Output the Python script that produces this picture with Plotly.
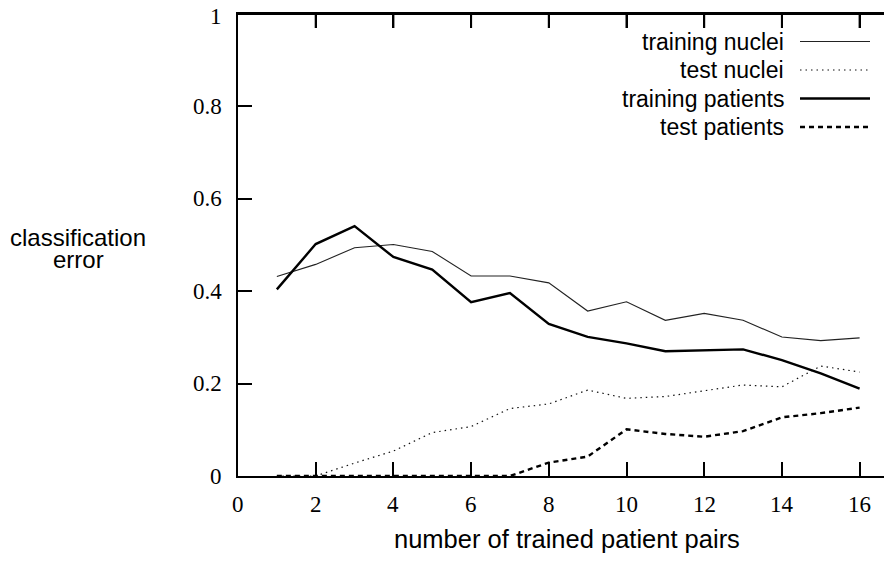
import plotly.graph_objects as go

pairs = list(range(1, 17))
training_nuclei = [0.432, 0.458, 0.494, 0.501, 0.486, 0.433, 0.433, 0.418,
                   0.357, 0.377, 0.337, 0.352, 0.337, 0.301, 0.293, 0.299]
test_nuclei = [0.0, 0.0, 0.028, 0.054, 0.094, 0.107, 0.146, 0.156,
               0.186, 0.168, 0.172, 0.184, 0.197, 0.193, 0.238, 0.225]
training_patients = [0.404, 0.502, 0.541, 0.474, 0.447, 0.376, 0.396, 0.329,
                     0.301, 0.287, 0.270, 0.272, 0.274, 0.251, 0.222, 0.189]
test_patients = [0.0, 0.0, 0.0, 0.0, 0.0, 0.0, 0.0, 0.029,
                 0.042, 0.101, 0.091, 0.085, 0.097, 0.127, 0.136, 0.148]

x_ticks = [0, 2, 4, 6, 8, 10, 12, 14, 16]
y_ticks = [0, 0.2, 0.4, 0.6, 0.8, 1]
y_tick_labels = ["0", "0.2", "0.4", "0.6", "0.8", "1"]

series_names = ["training nuclei", "test nuclei", "training patients", "test patients"]
series_values = [training_nuclei, test_nuclei, training_patients, test_patients]
styles = [
    dict(color="#222222", width=1.1, dash="solid"),
    dict(color="#111111", width=1.2, dash="1.5px,4px"),
    dict(color="black", width=2.4, dash="solid"),
    dict(color="black", width=2.4, dash="5px,4px"),
]

# the page body adds an 8px offset, so the figure is 8px smaller and shifted
OFF = 8
W, H = 892 - OFF, 561 - OFF
ML, MR, MT, MB = 238 - OFF, 0, 14 - OFF, 85
PW = W - ML - MR
PH = H - MT - MB
px_per_unit = 38.85
TICK = 14

fig = go.Figure()
for name, vals, st in zip(series_names, series_values, styles):
    fig.add_trace(go.Scatter(x=pairs, y=vals, mode="lines", name=name,
                             line=st, showlegend=False))

serif = "Liberation Serif"
sans = "Liberation Sans"

fig.update_xaxes(range=[0, PW / px_per_unit], tickvals=x_ticks,
                 ticks="inside", ticklen=TICK, tickwidth=2, tickcolor="black",
                 showline=True, linewidth=2, linecolor="black", mirror="ticks",
                 showgrid=False, zeroline=False, showticklabels=False,
                 automargin=False)
fig.update_yaxes(range=[0, 1], tickvals=y_ticks,
                 ticks="inside", ticklen=TICK, tickwidth=2, tickcolor="black",
                 showline=True, linewidth=2, linecolor="black", mirror=False,
                 showgrid=False, zeroline=False, showticklabels=False,
                 automargin=False)

def py(pix):
    # pix is a page pixel row
    return (H - MB - (pix - OFF)) / PH

def pxp(pix):
    return (pix - OFF - ML) / PW

shapes = []
# top border line and its ticks, drawn explicitly
shapes.append(dict(type="line", xref="paper", yref="paper", layer="above",
                   x0=-1 / PW, x1=1, y0=1, y1=1,
                   line=dict(color="black", width=2)))
for v in x_ticks[1:]:
    shapes.append(dict(type="line", xref="x", yref="paper", layer="above",
                       x0=v, x1=v, y0=1, y1=1 - TICK / PH,
                       line=dict(color="black", width=2)))
# right-side ticks (the right axis itself lies just beyond the visible canvas)
for v in y_ticks[1:-1]:
    shapes.append(dict(type="line", xref="paper", yref="y", layer="above",
                       x0=1 - 7 / PW, x1=1, y0=v, y1=v,
                       line=dict(color="black", width=2)))

annotations = []
# tick labels
for v in x_ticks:
    annotations.append(dict(text=str(v), xref="x", yref="paper", x=v, y=py(504),
                            xanchor="center", yanchor="middle", showarrow=False,
                            font=dict(family=serif, size=23, color="black")))
for v, t in zip(y_ticks, y_tick_labels):
    annotations.append(dict(text=t, xref="paper", yref="y", x=pxp(224), y=v,
                            xanchor="right", yanchor="middle", showarrow=False,
                            yshift=-2 if v == 1 else 0,
                            font=dict(family=serif, size=23, color="black")))

legend_rows = [41.5, 70, 98.5, 127]
for name, st, row in zip(series_names, styles, legend_rows):
    annotations.append(dict(text=name, xref="paper", yref="paper",
                            x=pxp(786), y=py(row), xanchor="right", yanchor="middle",
                            showarrow=False,
                            font=dict(family=sans, size=23, color="black")))
    shapes.append(dict(type="line", xref="paper", yref="paper",
                       x0=pxp(800), x1=pxp(870), y0=py(row), y1=py(row),
                       line=st))

annotations.append(dict(text="number of trained patient pairs", xref="paper", yref="paper",
                        x=pxp(567), y=py(539), xanchor="center", yanchor="middle",
                        showarrow=False, font=dict(family=sans, size=25.5, color="black")))
annotations.append(dict(text="classification", xref="paper", yref="paper",
                        x=pxp(78), y=py(237), xanchor="center", yanchor="middle",
                        showarrow=False, font=dict(family=sans, size=24, color="black")))
annotations.append(dict(text="error", xref="paper", yref="paper",
                        x=pxp(78), y=py(259), xanchor="center", yanchor="middle",
                        showarrow=False, font=dict(family=sans, size=24, color="black")))

fig.update_layout(width=W, height=H,
                  margin=dict(l=ML, r=MR, t=MT, b=MB, pad=0, autoexpand=False),
                  paper_bgcolor="white", plot_bgcolor="white",
                  shapes=shapes, annotations=annotations, showlegend=False)

fig.write_html("out.html")
